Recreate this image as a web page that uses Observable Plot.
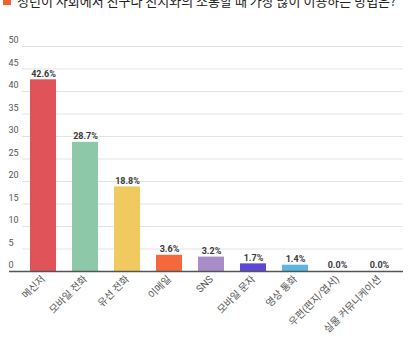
<!DOCTYPE html>
<html><head><meta charset="utf-8">
<script src="https://cdn.jsdelivr.net/npm/d3@7"></script>
<script src="https://cdn.jsdelivr.net/npm/@observablehq/plot@0.6"></script>
<style>
body{margin:0;background:#fff;width:416px;height:362px;overflow:hidden;position:relative;font-family:Roboto,"Noto Sans CJK KR",sans-serif;}
#title{position:absolute;left:3px;top:-9px;font-size:13px;color:#222;white-space:nowrap;font-family:"Noto Sans CJK KR",sans-serif;}
#title span{display:inline-block;width:8px;height:8px;background:#f0622d;margin-right:6px;vertical-align:1px;}
#chart{position:absolute;left:0;top:0;}
</style></head>
<body>
<div id="title"><span></span>청년이 사회에서 친구나 친지와의 소통할 때 가장 많이 이용하는 방법은?</div>
<div id="chart"></div>
<script>
const categories = ["메신저","모바일 전화","유선 전화","이메일","SNS","모바일 문자","영상 통화","우편(편지/엽서)","실물 커뮤니케이션"];
const values = [42.6, 28.7, 18.8, 3.6, 3.2, 1.7, 1.4, 0.0, 0.0];
const colors = ["#e05358","#8dc9a9","#f0ca61","#f5683b","#a98dc8","#5c47d6","#5db5e2","#cccccc","#cccccc"];
const yTicks = [0,5,10,15,20,25,30,35,40,45,50];

const data = categories.map((c,i)=>({cat:c, v:values[i], color:colors[i]}));

const chart = Plot.plot({
  width: 416,
  height: 362,
  marginLeft: 9,
  marginRight: 13,
  marginTop: 46,
  marginBottom: 91,
  style: {fontFamily: 'Roboto, "Noto Sans CJK KR", sans-serif', background: "transparent"},
  x: {domain: categories, range: [30, 392], paddingInner: 0.38, paddingOuter: 0, round: false, label: null},
  y: {domain: [0, 50], label: null},
  marks: [
    Plot.ruleY(yTicks.slice(1), {stroke: "#e3e3e3", insetLeft: 13}),
    Plot.axisY(yTicks, {tickSize: 0, textAnchor: "start", dx: 8, dy: -6, fontSize: 9, fill: "#555", label: null}),
    Plot.barY(data, {x: "cat", y: "v", fill: "color"}),
    Plot.text(data, {x: "cat", y: "v", text: d => d.v.toFixed(1) + "%", dy: -6, fontSize: 9, fontWeight: "bold", fill: "#3a3a3a"}),
    Plot.ruleY([0], {stroke: "#555", strokeWidth: 1.5}),
    Plot.axisX({tickSize: 0, tickPadding: 6, tickRotate: -45, fontSize: 10, fill: "#555", label: null})
  ]
});
document.getElementById("chart").append(chart);
</script>
</body></html>
